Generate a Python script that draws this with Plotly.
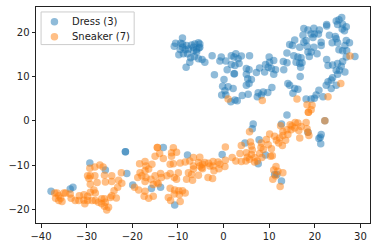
import plotly.graph_objects as go

dress_pts = [
(-10.8,16.8),(-10.5,17.5),(-9.0,18.7),(-9.4,17.5),(-8.1,17.0),(-7.0,17.1),(-6.3,17.3),(-5.5,17.6),(-5.4,16.4),(-5.9,16.1),
(-6.6,16.6),(-8.4,16.0),(-9.0,16.6),(-9.5,16.1),(-9.8,14.9),(-8.8,15.1),(-7.9,15.1),(-7.2,14.2),(-6.4,14.5),(-7.4,13.2),
(-8.2,12.1),(-5.5,14.0),(-4.7,13.8),(-4.1,13.2),(-5.9,15.5),(-9.0,17.3),(-7.7,16.2),(-6.6,15.8),(-5.2,17.3),(-5.2,16.6),
(-2.5,14.7),(-0.5,14.4),(-0.8,13.5),(0.5,13.5),(1.7,14.7),(2.7,15.1),(3.9,14.6),(5.7,14.7),(3.2,14.0),(2.3,14.4),
(3.4,12.9),(1.7,12.7),(2.5,12.5),(0.8,11.5),(-2.0,10.4),(0.1,9.3),(2.3,10.6),(2.4,10.6),(5.0,11.8),(5.6,11.5),(5.0,10.5),(5.3,9.5),
(6.1,9.3),(5.6,8.4),(5.0,8.0),(7.2,10.9),(7.9,11.9),(9.0,11.0),(9.2,12.7),(10.0,14.4),(11.0,13.6),(10.1,13.2),
(9.8,12.1),(10.5,11.8),(11.4,11.5),(11.0,10.5),(13.2,11.5),(13.1,13.4),(13.9,13.1),(13.9,15.3),(14.5,17.2),(15.6,18.2),
(15.1,17.0),(16.7,16.6),(15.4,14.7),(16.3,14.4),(15.9,13.2),(17.0,14.2),(16.7,12.9),(16.9,12.1),(17.2,13.1),(16.8,10.0),
(17.4,19.3),(17.6,20.8),(18.5,20.5),(19.8,20.9),(21.0,20.5),(19.2,19.6),(19.9,19.6),(18.1,18.1),(20.8,19.6),(19.6,18.8),
(17.6,17.7),(22.6,21.7),(22.6,21.4),(23.2,19.3),(24.5,19.0),(24.7,22.5),(25.3,22.8),(25.9,23.3),(25.0,21.7),(26.1,21.8),
(26.9,21.2),(26.0,20.7),(26.5,20.3),(24.7,18.5),(23.8,17.6),(25.0,17.6),(26.9,18.1),(27.6,17.6),(26.6,17.0),(25.3,16.0),
(26.1,15.8),(27.0,15.8),(28.8,14.5),(26.9,14.4),(26.1,13.4),(25.8,12.3),(25.0,12.9),(23.9,12.6),(22.6,13.8),(22.9,12.5),
(25.4,11.4),(26.6,11.0),(24.7,11.4),(25.0,10.5),(23.9,9.7),(23.6,9.2),(22.9,8.8),(22.5,8.0),(23.6,7.3),(24.7,8.0),
(18.3,16.8),(19.8,16.6),(21.4,17.7),(21.4,17.0),(20.5,15.1),(19.2,15.5),(18.5,15.5),(18.8,14.5),(14.1,8.4),(14.5,8.0),
(15.6,7.3),(16.3,7.1),(15.2,6.2),(18.1,4.9),(20.9,6.9),(20.3,5.8),(19.9,5.1),(19.2,4.9),(21.8,5.4),(13.9,1.3),
(1.0,7.7),(-0.2,7.8),(2.1,7.3),(0.3,6.8),(-0.4,5.8),(0.5,5.8),(1.6,4.3),(2.5,4.7),(3.0,4.5),(4.1,5.7),
(5.4,6.0),(7.6,6.3),(8.7,6.5),(9.7,6.4),(10.6,7.5),(7.4,5.4),(8.3,5.8),
(-37.8,-15.9),(-33.6,-15.4),(-33.0,-15.0),(-29.3,-9.5),(-25.9,-11.1),(-21.5,-7.0),(-21.5,-7.0),(-21.2,-11.9),(-19.9,-14.5),(-15.8,-15.3),
(-13.8,-15.0),(-10.7,-19.0),(-13.2,-6.0),(-7.9,-7.7),(-0.3,-7.6),(4.7,-5.0),(6.5,-0.7),(6.3,-1.8),(7.8,-4.3),(9.2,-7.7),
(7.6,-9.7),(12.7,-0.7),(18.5,-2.6),(21.4,-3.1),(20.9,-4.0),(21.2,-3.7),(21.3,-5.2),(22.2,0.0),(11.7,-12.1),(11.2,-12.1),(12.7,-13.6),
]
sneaker_pts = [
(1.0,4.9),(8.5,4.6),(16.1,4.9),(22.9,5.4),(25.7,8.4),(27.7,14.6),(18.3,3.6),(19.4,3.5),(19.2,2.5),(18.6,1.9),
(22.2,0.0),(-37.0,-16.3),(-36.5,-16.3),(-35.0,-16.3),(-36.8,-17.5),(-36.1,-16.9),(-35.7,-17.5),(-36.1,-18.0),(-35.4,-18.2),(-34.6,-16.3),
(-33.6,-16.5),(-33.4,-17.5),(-32.5,-18.0),(-31.6,-16.9),(-30.6,-16.7),(-31.7,-18.0),(-30.6,-17.9),(-29.8,-18.0),(-30.4,-18.7),(-28.8,-18.0),
(-28.1,-18.0),(-27.4,-18.4),(-26.7,-17.6),(-26.1,-17.6),(-25.9,-18.4),(-26.7,-18.7),(-25.2,-19.5),(-25.6,-20.1),(-26.1,-19.3),(-29.8,-12.4),
(-29.2,-12.4),(-29.5,-13.0),(-29.3,-10.7),(-28.2,-10.4),(-27.1,-10.0),(-26.4,-10.4),(-29.2,-14.3),(-27.7,-13.9),(-28.4,-15.6),(-28.1,-16.3),
(-29.2,-16.1),(-29.8,-17.0),(-28.2,-12.4),(-26.1,-12.3),(-24.5,-12.4),(-24.5,-13.7),(-25.9,-13.8),(-23.0,-13.4),(-22.3,-14.1),(-23.2,-15.0),
(-24.0,-15.8),(-24.5,-16.9),(-23.5,-17.4),(-24.8,-17.3),(-22.4,-11.7),(-19.5,-15.0),(-18.6,-15.6),(-17.2,-15.9),(-17.4,-17.0),(-16.4,-17.5),
(-15.4,-17.0),(-18.4,-9.7),(-17.2,-9.2),(-15.7,-9.8),(-17.0,-10.2),(-16.4,-10.9),(-17.2,-11.3),(-18.3,-11.7),(-18.8,-12.8),(-17.9,-12.4),
(-17.0,-12.8),(-17.2,-13.7),(-15.9,-13.2),(-15.0,-12.4),(-14.6,-13.9),(-15.4,-14.4),(-13.8,-11.9),(-13.6,-12.8),(-12.4,-12.4),(-14.3,-14.2),
(-11.7,-11.9),(-10.8,-12.8),(-9.9,-11.7),(-10.3,-13.2),(-11.7,-15.2),(-10.7,-15.6),(-9.8,-15.8),(-9.0,-15.8),(-8.4,-16.3),(-9.7,-16.7),
(-10.8,-16.5),(-12.1,-17.3),(-11.6,-18.0),(-9.5,-18.2),(-14.5,-6.0),(-14.5,-6.0),(-11.0,-6.1),(-15.0,-8.0),(-14.0,-7.4),(-13.2,-8.5),
(-11.4,-7.2),(-10.3,-7.1),(-11.4,-8.0),(-11.0,-9.7),(-11.7,-9.8),(-9.5,-9.5),(-8.4,-9.3),(-6.6,-8.3),(-7.4,-9.1),(-6.6,-10.2),
(-5.5,-9.4),(-4.6,-9.8),(-7.0,-12.1),(-8.1,-13.2),(-6.8,-13.4),(-7.7,-11.7),(-5.5,-12.3),(-6.6,-10.9),(-4.6,-10.8),(-5.2,-8.2),
(-5.2,-10.2),(-4.1,-9.4),(-4.8,-10.6),(-3.3,-9.6),(-2.3,-9.2),(-3.0,-10.2),(-2.3,-10.2),(-2.1,-11.3),(-3.4,-12.8),(-2.4,-13.0),
(-1.2,-9.3),(-0.8,-9.8),(-1.0,-10.8),(0.3,-10.3),(0.4,-8.9),(0.4,-5.9),(1.9,-8.3),(2.7,-9.1),(3.9,-9.2),(3.6,-7.4),
(3.9,-5.6),(5.0,-7.2),(4.9,-9.1),(5.7,-8.7),(5.2,-8.2),(6.1,-7.6),(5.9,-4.8),(6.1,-5.7),(6.3,-6.6),(6.8,-8.3),
(6.8,-9.3),(7.4,-9.1),(8.4,-8.3),(7.9,-7.4),(8.7,-6.5),(8.3,-5.0),(8.2,-6.0),(9.4,-4.2),(10.1,-3.0),(9.8,-5.4),
(10.3,-8.0),(10.7,-7.9),(10.5,-6.3),(11.2,-3.5),(11.6,-4.4),(12.3,-3.9),(12.1,-5.0),(12.9,-5.6),(13.0,-3.3),(13.6,-4.4),
(14.1,-3.1),(13.9,-2.0),(14.8,-2.0),(14.6,-0.9),(15.7,-0.4),(16.3,-0.5),(15.6,-1.6),(17.0,-1.3),(16.7,-3.9),(18.1,-0.4),
(18.3,-1.8),(18.7,-3.3),(18.5,-2.6),(11.5,-10.3),(11.0,-11.1),(13.0,-11.7),(11.9,-11.4),(10.8,-13.2),(11.4,-12.4),(12.4,-14.8),
(5.7,-2.5),(12.5,-1.1),(15.0,-1.2),(16.5,-2.2),(13.0,-2.4),(18.6,1.9),
]

dress_x = [p[0] for p in dress_pts]
dress_y = [p[1] for p in dress_pts]
sneaker_x = [p[0] for p in sneaker_pts]
sneaker_y = [p[1] for p in sneaker_pts]
x_ticks = [-40, -30, -20, -10, 0, 10, 20, 30]
y_ticks = [-20, -10, 0, 10, 20]
BLUE = "rgba(31,119,180,0.5)"
ORANGE = "rgba(255,127,14,0.5)"

fig = go.Figure()
series = [("Dress (3)", dress_x, dress_y, BLUE, 0.9313),
          ("Sneaker (7)", sneaker_x, sneaker_y, ORANGE, 0.8626)]
for name, xs, ys, col, _ in series:
    fig.add_trace(go.Scatter(x=xs, y=ys, mode="markers", name=name, showlegend=False,
                             marker=dict(color=col, size=7.5, line=dict(width=0))))

axis = dict(showgrid=False, zeroline=False, showline=True, linecolor="#222", linewidth=1,
            mirror=True, ticks="outside", ticklen=3.5, tickwidth=1, tickcolor="#222",
            tickfont=dict(family="DejaVu Sans", size=10, color="#222"))
fig.update_xaxes(range=[-41.1, 32.1], tickvals=x_ticks, **axis)
fig.update_yaxes(range=[-23.06, 25.67], tickvals=y_ticks, **axis)

# compact matplotlib-style legend frame, keys and labels
fig.add_shape(type="rect", xref="paper", yref="paper", x0=0.0152, x1=0.2939, y0=0.826, y1=0.977,
              fillcolor="rgba(255,255,255,0.8)", line=dict(color="#ccc", width=1), layer="above")
for name, _, _, col, ypos in series:
    fig.add_shape(type="circle", xref="paper", yref="paper", xsizemode="pixel", ysizemode="pixel",
                  xanchor=0.0552, yanchor=ypos, x0=-3.75, x1=3.75, y0=-3.75, y1=3.75,
                  fillcolor=col, line=dict(width=0), layer="above")
    fig.add_annotation(text=name, xref="paper", yref="paper", x=0.1089, y=ypos, xanchor="left",
                       yanchor="middle", showarrow=False, xshift=-1, borderpad=0,
                       font=dict(family="DejaVu Sans", size=10, color="#222"))

fig.update_layout(
    width=377, height=248, paper_bgcolor="white", plot_bgcolor="white", showlegend=False,
    margin=dict(l=35.5, r=6.3, t=6, b=23.7, pad=0),
)
fig.write_html("out.html", config=dict(displayModeBar=False),
               post_script="document.body.style.margin='0';document.documentElement.style.overflow='hidden';")
